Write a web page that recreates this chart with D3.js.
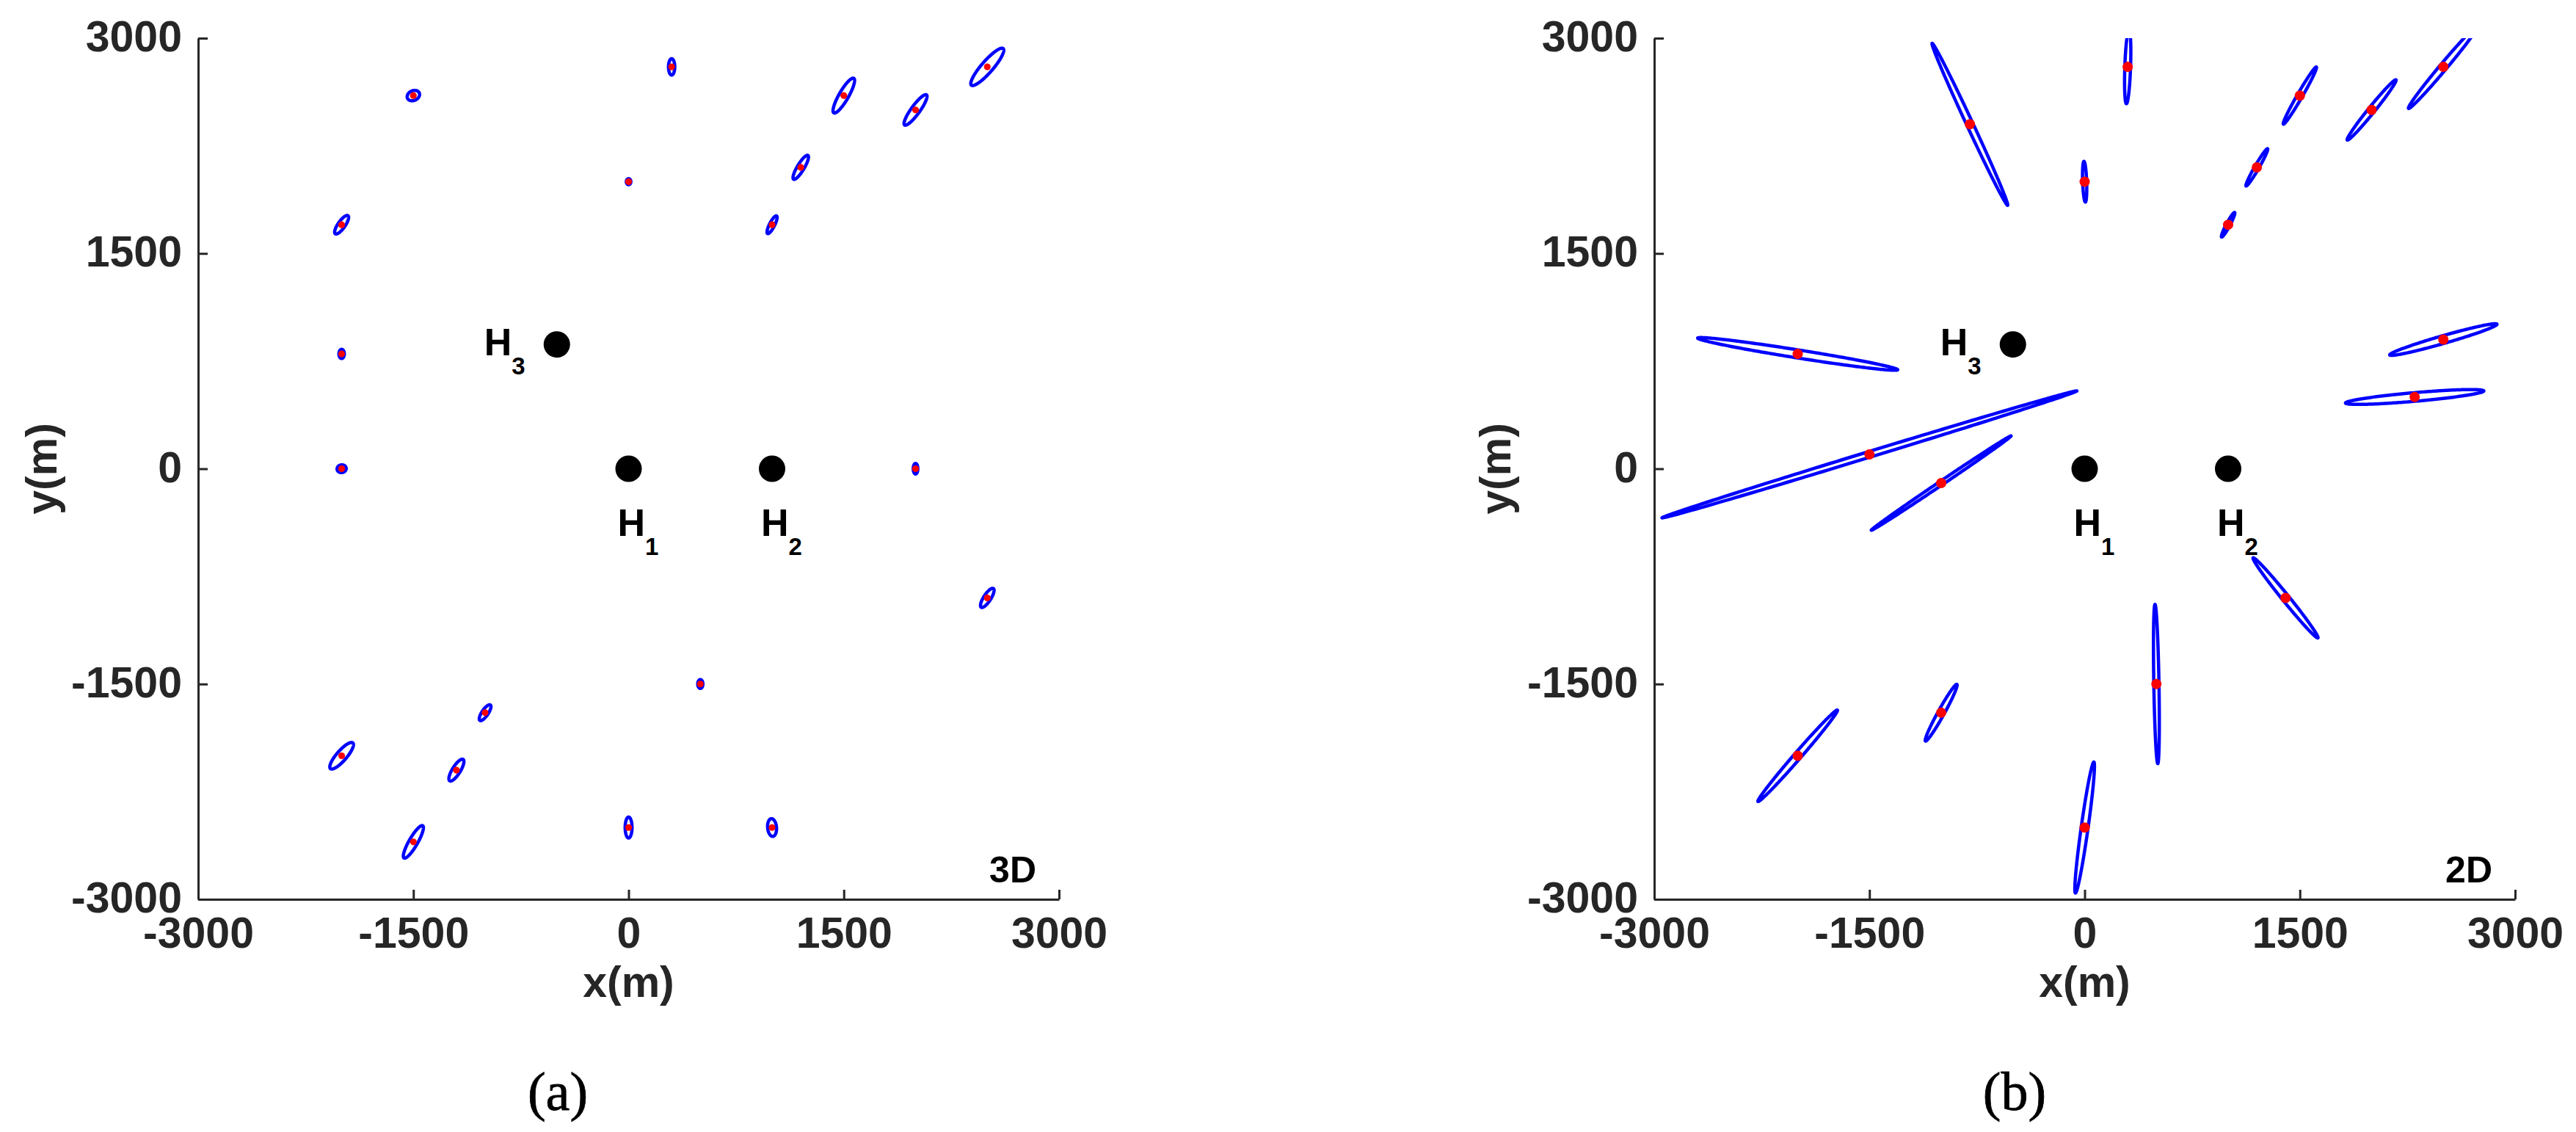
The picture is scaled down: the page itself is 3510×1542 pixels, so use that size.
<!DOCTYPE html>
<html>
<head>
<meta charset="utf-8">
<script src="https://cdn.jsdelivr.net/npm/d3@7"></script>
<style>
  html, body { margin: 0; padding: 0; background: #fff; }
  svg { display: block; }
</style>
</head>
<body>
<svg id="chart" width="3510" height="1542"></svg>
<script>
// ---------------- DATA ----------------
const tickValues = [-3000, -1500, 0, 1500, 3000];
const tickLabels = ["-3000", "-1500", "0", "1500", "3000"];

// hydrophone positions and labels
const hydrophones = [[0, 0], [1000, 0], [-500, 866]];
const hydroSubs = ["1", "2", "3"];

// (a) 3D: target positions [x, y] (m)
const targets3D = [
  [-1500, 2600], [300, 2800], [0, 2000], [1500, 2600], [2000, 2500],
  [2500, 2800], [1200, 2100], [1000, 1700], [-2000, 1700], [-2000, 800],
  [-2000, 0], [2000, 0], [2500, -900], [500, -1500], [-1000, -1700],
  [-2000, -2000], [-1200, -2100], [-1500, -2600], [0, -2500], [1000, -2500]
];
// (a) 3D: error ellipses [semi-major (m), semi-minor (m), orientation (deg)]
const ellipses3D = [
  [45, 34, 25], [57, 22, 90], [21, 16, 90], [139, 33, 60], [130, 30, 54],
  [169, 40, 49], [97, 24, 59], [69, 18, 63], [77, 25, 55], [32, 19, 90],
  [32, 27, 10], [37, 16, 90], [78, 25, 57], [31, 18, 90], [65, 22, 56],
  [119, 35, 49], [88, 28, 58], [130, 30, 60], [73, 24, 90], [62, 31, 95]
];

// (b) 2D: target positions [x, y] (m)
const targets2D = [
  [-800, 2400], [300, 2800], [0, 2000], [1500, 2600], [2000, 2500],
  [2500, 2800], [1200, 2100], [1000, 1700], [-2000, 800], [2500, 900],
  [2300, 500], [-1500, 100], [-1000, -100], [1400, -900], [500, -1500],
  [-1000, -1700], [-2000, -2000], [0, -2500]
];
// (b) 2D: error ellipses [semi-major (m), semi-minor (m), orientation (deg)]
const ellipses2D = [
  [623, 22, -65], [257, 20, 88], [142, 14, 92], [230, 18, 60], [270, 22, 51],
  [378, 24, 50], [150, 15, 60], [97, 13, 62], [706, 28, -9], [389, 27, 16],
  [484, 30, 5], [1512, 20, 17], [588, 14, 34], [359, 24, -51], [555, 18, 91],
  [226, 22, 61], [422, 24, 49], [461, 24, 82]
];

const panelTags = ["3D", "2D"];
const captions = ["(a)", "(b)"];
const axisTitles = ["x(m)", "y(m)"];

// ---------------- DRAW ----------------
const svg = d3.select("#chart");
svg.append("rect").attr("width", 3510).attr("height", 1542).attr("fill", "#fff");

const SIZE = 1173, TOP = 52;
const AX = "#262626";
const FONT = "'Liberation Sans', Arial, Helvetica, sans-serif";

const panels = [
  { x0: 270, targets: targets3D, ells: ellipses3D, dotR: 4.6, tag: panelTags[0], cap: captions[0], capX: 760, ylabX: 77 },
  { x0: 2254, targets: targets2D, ells: ellipses2D, dotR: 7, tag: panelTags[1], cap: captions[1], capX: 2745, ylabX: 2058 }
];

function ellipsePoints(c, e) {
  const [cx, cy] = c, [a, b, deg] = e, th = deg * Math.PI / 180;
  return d3.range(240).map(i => {
    const t = i / 240 * 2 * Math.PI;
    return [cx + a * Math.cos(t) * Math.cos(th) - b * Math.sin(t) * Math.sin(th),
            cy + a * Math.cos(t) * Math.sin(th) + b * Math.sin(t) * Math.cos(th)];
  });
}

panels.forEach((p, pi) => {
  const x = d3.scaleLinear().domain([-3000, 3000]).range([p.x0, p.x0 + SIZE]);
  const y = d3.scaleLinear().domain([-3000, 3000]).range([TOP + SIZE, TOP]);

  const g = svg.append("g");
  const clipId = "clip" + pi;
  svg.append("clipPath").attr("id", clipId)
    .append("rect").attr("x", p.x0).attr("y", TOP).attr("width", SIZE).attr("height", SIZE);

  // axes
  const xAxis = d3.axisBottom(x).tickValues(tickValues).tickFormat((d, i) => tickLabels[i])
    .tickSizeInner(-13).tickSizeOuter(0).tickPadding(24);
  const yAxis = d3.axisLeft(y).tickValues(tickValues).tickFormat((d, i) => tickLabels[i])
    .tickSizeInner(-13).tickSizeOuter(0).tickPadding(22);

  const gx = g.append("g").attr("transform", `translate(0,${TOP + SIZE})`).call(xAxis);
  const gy = g.append("g").attr("transform", `translate(${p.x0},0)`).call(yAxis);
  [gx, gy].forEach(a => {
    a.attr("font-family", FONT).attr("font-size", 59).attr("font-weight", "bold");
    a.selectAll("path.domain").attr("stroke", AX).attr("stroke-width", 3);
    a.selectAll(".tick line").attr("stroke", AX).attr("stroke-width", 3);
    a.selectAll(".tick text").attr("fill", AX);
  });
  gy.selectAll(".tick text").attr("dy", "0.3em");

  // axis titles
  g.append("text").attr("x", p.x0 + SIZE / 2).attr("y", 1358)
    .attr("text-anchor", "middle").attr("font-family", FONT).attr("font-size", 59)
    .attr("font-weight", "bold").attr("fill", AX).text(axisTitles[0]);
  g.append("text").attr("transform", `translate(${p.ylabX},${TOP + SIZE / 2}) rotate(-90)`)
    .attr("text-anchor", "middle").attr("font-family", FONT).attr("font-size", 59)
    .attr("font-weight", "bold").attr("fill", AX).text(axisTitles[1]);

  // ellipses
  const line = d3.line().x(d => x(d[0])).y(d => y(d[1])).curve(d3.curveLinearClosed);
  const plot = g.append("g").attr("clip-path", `url(#${clipId})`);
  plot.selectAll("path.ell").data(p.targets).enter().append("path")
    .attr("class", "ell")
    .attr("d", (d, i) => line(ellipsePoints(d, p.ells[i])))
    .attr("fill", "none").attr("stroke", "#0000ff").attr("stroke-width", 4.5)
    .attr("stroke-linejoin", "round");

  // target points
  plot.selectAll("circle.tgt").data(p.targets).enter().append("circle")
    .attr("class", "tgt")
    .attr("cx", d => x(d[0])).attr("cy", d => y(d[1])).attr("r", p.dotR)
    .attr("fill", "#ff0000");

  // hydrophones
  g.selectAll("circle.h").data(hydrophones).enter().append("circle")
    .attr("class", "h").attr("cx", d => x(d[0])).attr("cy", d => y(d[1])).attr("r", 18)
    .attr("fill", "#000");

  hydrophones.forEach((h, i) => {
    const below = i < 2;
    const tx = below ? x(h[0]) - 15 : x(h[0]) - 99;
    const ty = below ? y(h[1]) + 91 : y(h[1]) + 15;
    const t = g.append("text").attr("x", tx).attr("y", ty)
      .attr("font-family", FONT).attr("font-size", 52).attr("font-weight", "bold").attr("fill", "#000");
    t.append("tspan").text("H");
    t.append("tspan").attr("dy", 26).attr("font-size", 33).text(hydroSubs[i]);
  });

  // panel tag
  g.append("text").attr("x", p.x0 + SIZE - 31).attr("y", 1202)
    .attr("text-anchor", "end").attr("font-family", FONT).attr("font-size", 50)
    .attr("font-weight", "bold").attr("fill", "#000").text(p.tag);

  // caption
  g.append("text").attr("x", p.capX).attr("y", 1512)
    .attr("text-anchor", "middle").attr("font-family", "'Liberation Serif', 'Times New Roman', serif")
    .attr("font-size", 74).attr("fill", "#000").attr("stroke", "#000").attr("stroke-width", 0.8)
    .text(p.cap);
});
</script>
</body>
</html>
